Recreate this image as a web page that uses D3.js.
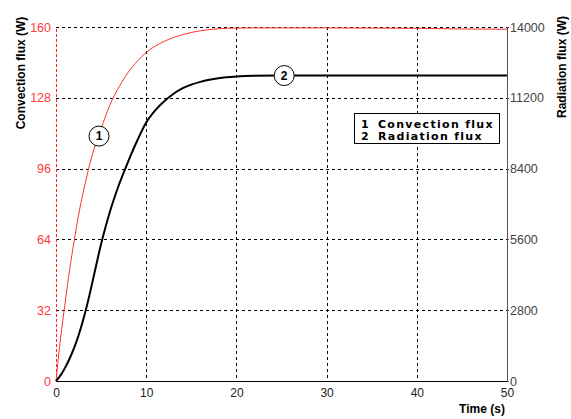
<!DOCTYPE html>
<html>
<head>
<meta charset="utf-8">
<script src="https://cdn.jsdelivr.net/npm/d3@7"></script>
<style>
  body { margin: 0; background: #fff; }
  svg { display: block; font-family: "Liberation Sans", Arial, sans-serif; }
  .grid line { stroke: #000; stroke-width: 1; stroke-dasharray: 3,3; shape-rendering: crispEdges; }
  .axis path, .axis line { shape-rendering: crispEdges; }
  .title { font-weight: bold; font-size: 12px; fill: #000; }
  .legend text { font-family: "DejaVu Sans", sans-serif; font-weight: bold; font-size: 11px; letter-spacing: 1.3px; }
</style>
</head>
<body>
<div class="chart"></div>
<script>
// time axis (s)
var timeTicks = [0, 10, 20, 30, 40, 50];
var convTicks = [0, 32, 64, 96, 128, 160];
var radTicks = [0, 2800, 5600, 8400, 11200, 14000];

// curve 1: convection flux (W), left axis
var convTime  = [0, 0.25, 0.5, 1, 1.5, 2, 2.5, 3, 3.5, 4, 5, 6, 7, 8, 9, 10, 12, 14, 16, 18, 20, 22, 25, 30, 35, 40, 45, 50];
var convFlux  = [0, 10, 19, 35, 50, 63, 75, 85, 94, 102, 114, 125, 133, 139.5, 144.5, 148.5, 153.5, 156.5, 158.3, 159.2, 159.5, 159.6, 159.6, 159.6, 159.5, 159.4, 159.1, 159.0];

// curve 2: radiation flux (W), right axis
var radTime = [0, 0.5, 1, 1.5, 2, 2.5, 3, 3.5, 4, 4.5, 5, 5.5, 6, 7, 8, 9, 10, 11, 12, 13, 14, 15, 16, 17, 18, 20, 22, 25, 30, 40, 50];
var radFlux = [0, 220, 520, 880, 1300, 1800, 2400, 3080, 3850, 4650, 5420, 6100, 6720, 7780, 8680, 9500, 10220, 10700, 11060, 11350, 11570, 11720, 11830, 11910, 11970, 12040, 12070, 12080, 12085, 12085, 12085];

// curve markers
var markerIds = ["1", "2"];
var markerTime = [4.77, 25.3];
var markerAxis = ["conv", "rad"];
var markerValue = [110.7, 12080];

var legendIds = ["1", "2"];
var legendNames = ["Convection flux", "Radiation flux"];

var width = 571, height = 419;
var margin = { top: 27, right: 64, bottom: 38, left: 56 };
var w = width - margin.left - margin.right, h = height - margin.top - margin.bottom;

var svg = d3.select(".chart").append("svg")
  .attr("width", width).attr("height", height);
var g = svg.append("g").attr("transform", "translate(" + margin.left + "," + margin.top + ")");

var x = d3.scaleLinear().domain([0, 50]).range([0, w]);
var yL = d3.scaleLinear().domain([0, 160]).range([h, 0]);
var yR = d3.scaleLinear().domain([0, 14000]).range([h, 0]);

// grid
var grid = g.append("g").attr("class", "grid");
grid.selectAll(".v").data(timeTicks.slice(1, -1)).enter().append("line")
  .attr("x1", function(d) { return Math.round(x(d)) + 0.5; })
  .attr("x2", function(d) { return Math.round(x(d)) + 0.5; })
  .attr("y1", 0).attr("y2", h);
grid.selectAll(".h").data(convTicks.slice(1)).enter().append("line")
  .attr("x1", 0).attr("x2", w)
  .attr("y1", function(d) { return Math.round(yL(d)) + 0.5; })
  .attr("y2", function(d) { return Math.round(yL(d)) + 0.5; });

// axes
var fmt = d3.format("d");
var xAxis = g.append("g").attr("class", "axis")
  .attr("transform", "translate(0," + h + ")")
  .call(d3.axisBottom(x).tickValues(timeTicks).tickFormat(fmt).tickSize(0).tickPadding(7));
xAxis.select(".domain").attr("stroke", "#000");
xAxis.selectAll("text").attr("font-size", 12).attr("font-family", "Liberation Sans, Arial").attr("fill", "#222");

var lAxis = g.append("g").attr("class", "axis")
  .call(d3.axisLeft(yL).tickValues(convTicks).tickFormat(fmt).tickSize(0).tickPadding(5));
lAxis.select(".domain").attr("stroke", "#ff2020").attr("stroke-dasharray", "3,2");
lAxis.selectAll("text").attr("font-size", 12.5).attr("font-family", "Liberation Sans, Arial").attr("fill", "#ff3a3a");

var rAxis = g.append("g").attr("class", "axis")
  .attr("transform", "translate(" + w + ",0)")
  .call(d3.axisRight(yR).tickValues(radTicks).tickFormat(fmt).tickSize(2).tickPadding(1).tickSizeOuter(0));
rAxis.select(".domain").attr("stroke", "#555");
rAxis.selectAll("line").attr("stroke", "#555");
rAxis.selectAll("text").attr("font-size", 12.5).attr("font-family", "Liberation Sans, Arial").attr("fill", "#444");

// curves
var convLine = d3.line()
  .x(function(d, i) { return x(convTime[i]); })
  .y(function(d) { return yL(d); })
  .curve(d3.curveMonotoneX);
var radLine = d3.line()
  .x(function(d, i) { return x(radTime[i]); })
  .y(function(d) { return yR(d); })
  .curve(d3.curveMonotoneX);

g.append("path").datum(convFlux).attr("d", convLine)
  .attr("fill", "none").attr("stroke", "#ff3030").attr("stroke-width", 1);
g.append("path").datum(radFlux).attr("d", radLine)
  .attr("fill", "none").attr("stroke", "#000").attr("stroke-width", 2);

// numbered markers on curves
var markers = g.selectAll(".marker").data(markerIds).enter().append("g")
  .attr("transform", function(d, i) {
    var yy = markerAxis[i] === "conv" ? yL(markerValue[i]) : yR(markerValue[i]);
    return "translate(" + x(markerTime[i]) + "," + yy + ")";
  });
markers.append("circle").attr("r", 10).attr("fill", "#fff").attr("stroke", "#000").attr("stroke-width", 1);
markers.append("text").text(function(d) { return d; })
  .attr("text-anchor", "middle").attr("dy", "0.36em")
  .attr("font-size", 12).attr("font-weight", "bold");

// legend
var legend = g.append("g").attr("class", "legend")
  .attr("transform", "translate(" + Math.round(x(33.04)) + "," + Math.round(yL(121.1)) + ")");
legend.append("rect").attr("x", 0.5).attr("y", 0.5).attr("width", 145).attr("height", 30)
  .attr("fill", "#fff").attr("stroke", "#000");
legend.selectAll(".lid").data(legendIds).enter().append("text")
  .attr("x", 7).attr("y", function(d, i) { return 14.5 + i * 12.5; })
  .text(function(d) { return d; });
legend.selectAll(".lname").data(legendNames).enter().append("text")
  .attr("x", 24).attr("y", function(d, i) { return 14.5 + i * 12.5; })
  .text(function(d) { return d; });

// titles
svg.append("text").attr("class", "title")
  .attr("transform", "translate(21,73) rotate(-90)")
  .attr("text-anchor", "middle").attr("dy", "0.35em")
  .text("Convection flux (W)");
svg.append("text").attr("class", "title")
  .attr("transform", "translate(562,67) rotate(-90)")
  .attr("text-anchor", "middle").attr("dy", "0.35em")
  .text("Radiation flux (W)");
svg.append("text").attr("class", "title")
  .attr("x", 482).attr("y", 413).attr("text-anchor", "middle")
  .text("Time (s)");
</script>
</body>
</html>
